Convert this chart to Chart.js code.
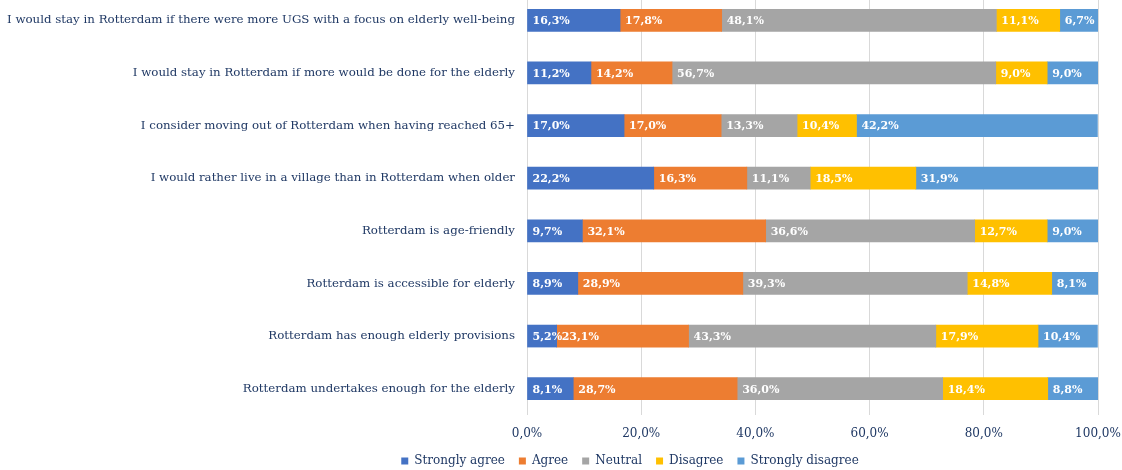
<!DOCTYPE html>
<html>
<head>
<meta charset="utf-8">
<script src="https://cdn.jsdelivr.net/npm/chart.js@4"></script>
<style>
  html, body { margin: 0; padding: 0; background: #fff; }
  #wrap { width: 1122px; height: 470px; overflow: hidden; }
  #barChart { display: block; margin-top: -6px; }
</style>
</head>
<body>
<div id="wrap"><canvas id="barChart" width="1122" height="476"></canvas></div>
<script>
const statements = [
  'I would stay in Rotterdam if there were more UGS with a focus on elderly well-being',
  'I would stay in Rotterdam if more would be done for the elderly',
  'I consider moving out of Rotterdam when having reached 65+',
  'I would rather live in a village than in Rotterdam when older',
  'Rotterdam is age-friendly',
  'Rotterdam is accessible for elderly',
  'Rotterdam has enough elderly provisions',
  'Rotterdam undertakes enough for the elderly'
];
const stronglyAgree    = [16.3, 11.2, 17.0, 22.2,  9.7,  8.9,  5.2,  8.1];
const agree            = [17.8, 14.2, 17.0, 16.3, 32.1, 28.9, 23.1, 28.7];
const neutral          = [48.1, 56.7, 13.3, 11.1, 36.6, 39.3, 43.3, 36.0];
const disagree         = [11.1,  9.0, 10.4, 18.5, 12.7, 14.8, 17.9, 18.4];
const stronglyDisagree = [ 6.7,  9.0, 42.2, 31.9,  9.0,  8.1, 10.4,  8.8];
const xTicks = [0, 20, 40, 60, 80, 100];

const fmt = v => v.toFixed(1).replace('.', ',') + '%';
const serif = "'DejaVu Serif', Georgia, serif";
const navy = '#1f3864';

// white value labels at the left of each segment
const segmentLabels = {
  id: 'segmentLabels',
  afterDatasetsDraw(chart) {
    const ctx = chart.ctx;
    ctx.save();
    ctx.fillStyle = '#ffffff';
    ctx.font = 'bold 11px ' + serif;
    ctx.textBaseline = 'middle';
    ctx.textAlign = 'left';
    chart.data.datasets.forEach((ds, i) => {
      chart.getDatasetMeta(i).data.forEach((bar, j) => {
        const left = Math.min(bar.x, bar.base);
        ctx.fillText(fmt(ds.data[j]), left + 5, bar.y + 1);
      });
    });
    ctx.restore();
  }
};

// nudge the legend right and up a bit like the original
const legendShift = {
  id: 'legendShift',
  afterLayout(chart) {
    const lg = chart.legend;
    if (lg) {
      lg.left += 81; lg.right += 81;
      lg.top -= 4;
    }
  }
};

const barData = {
  labels: statements,
  datasets: [
    { label: 'Strongly agree', data: stronglyAgree, backgroundColor: '#4472c4' },
    { label: 'Agree', data: agree, backgroundColor: '#ed7d31' },
    { label: 'Neutral', data: neutral, backgroundColor: '#a5a5a5' },
    { label: 'Disagree', data: disagree, backgroundColor: '#ffc000' },
    { label: 'Strongly disagree', data: stronglyDisagree, backgroundColor: '#5b9bd5' }
  ]
};

const barConfig = {
  type: 'bar',
  data: barData,
  plugins: [segmentLabels, legendShift],
  options: {
    indexAxis: 'y',
    responsive: false,
    animation: false,
    barThickness: 22,
    layout: { padding: { top: 0, right: 24, left: 0, bottom: 0 } },
    scales: {
      x: {
        stacked: true,
        min: 0,
        max: 100,
        afterBuildTicks: s => { s.ticks = xTicks.map(v => ({ value: v })); },
        grid: { color: '#d9d9d9', drawTicks: false },
        border: { display: false },
        ticks: {
          padding: 12,
          color: navy,
          font: { family: serif, size: 12 },
          callback: v => fmt(v)
        },
        afterFit: s => { s.height = 30; s.paddingLeft = 0; s.paddingRight = 0; }
      },
      y: {
        stacked: true,
        grid: { display: false },
        border: { display: false },
        ticks: {
          padding: 4,
          color: navy,
          font: { family: serif, size: 11.8 }
        },
        afterFit: s => { s.width = 527; s.paddingTop = 0; s.paddingBottom = 0; }
      }
    },
    plugins: {
      legend: {
        position: 'bottom',
        maxHeight: 25,
        labels: {
          boxWidth: 7,
          boxHeight: 7,
          padding: 14,
          color: navy,
          font: { family: serif, size: 12 }
        }
      },
      tooltip: { enabled: false }
    }
  }
};

const barChart = new Chart(document.getElementById('barChart'), barConfig);
</script>
</body>
</html>
